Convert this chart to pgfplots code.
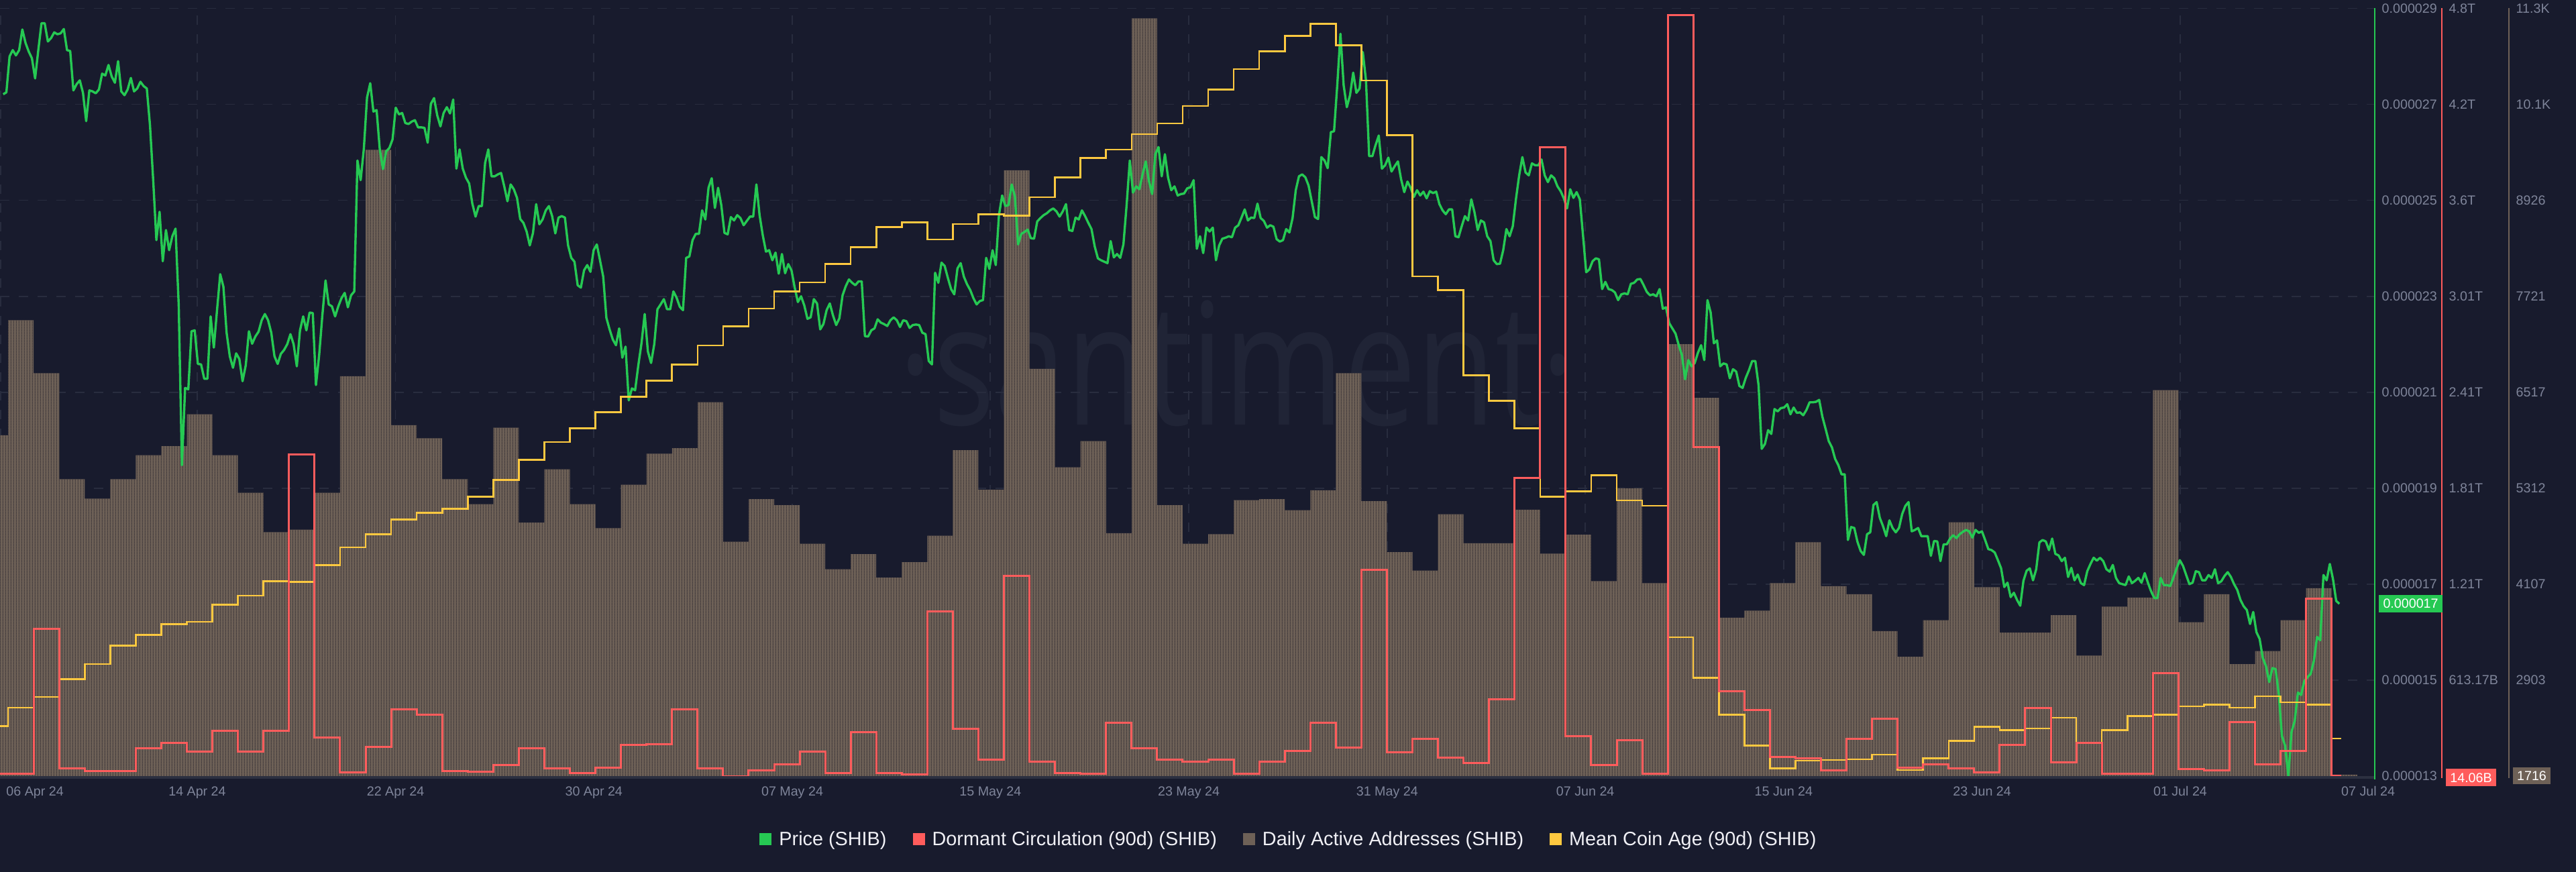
\documentclass[border=0pt]{standalone}
\usepackage{fontspec}
\setmainfont{Liberation Sans}
\newfontfamily\wmfont{Open Sans}
\usepackage{pgfplots}
\pgfplotsset{compat=1.18}
\usetikzlibrary{patterns.meta}

\definecolor{bgc}{RGB}{24,27,45}
\definecolor{gridc}{RGB}{40,44,62}
\definecolor{axisc}{RGB}{44,48,64}
\definecolor{tickc}{RGB}{126,132,153}
\definecolor{pricec}{RGB}{38,201,83}
\definecolor{dormc}{RGB}{255,92,92}
\definecolor{barc}{RGB}{110,97,87}
\definecolor{barline}{RGB}{52,47,52}
\definecolor{agec}{RGB}{255,201,64}
\definecolor{legc}{RGB}{240,240,245}
\definecolor{wmc}{RGB}{32,36,54}

\newcommand{\legsq}[1]{\textcolor{#1}{\rule[0.13mm]{1.8mm}{1.8mm}}}

\pgfplotsset{
  base/.style={
    scale only axis, width=354mm, height=114.45mm,
    at={(0mm,14.3mm)}, anchor=south west,
    xmin=-0.32, xmax=92.69,
    axis line style={draw=none},
    major tick length=0pt,
    tick style={draw=none},
    ticklabel style={font=\fontsize{5.6}{6.7}\selectfont, text=tickc, inner sep=0pt},
    yticklabel pos=right,
    yticklabel style={anchor=west},
  },
}

\begin{document}
\begin{tikzpicture}
\useasboundingbox (0,0) rectangle (384mm,130mm);
\fill[bgc] (0,0) rectangle (384mm,130mm);

% watermark
\node[text=wmc, font=\wmfont\fontsize{72}{72}\selectfont, anchor=base, xscale=0.76, inner sep=0pt] at (184.4mm,66.6mm) {·santiment·};

% daily active addresses (bars) + grid + x labels
\begin{axis}[base,
  ymin=1698.4, ymax=11335.2,
  ytick={2903,4107.6,5312.2,6516.8,7721.4,8926,10130.6,11335.2},
  yticklabels={2903,4107,5312,6517,7721,8926,10.1K,11.3K},
  yticklabel style={xshift=21mm},
  xtick={1.05,7.404,15.17,22.94,30.71,38.47,46.24,54.01,61.77,69.54,77.31,85.07,92.43},
  xticklabels={06 Apr 24,14 Apr 24,22 Apr 24,30 Apr 24,07 May 24,15 May 24,23 May 24,31 May 24,07 Jun 24,15 Jun 24,23 Jun 24,01 Jul 24,07 Jul 24},
  xticklabel style={anchor=north, yshift=-1.5mm},
  ymajorgrids=true,
  extra x ticks={-0.30,7.404,15.17,22.94,30.71,38.47,46.24,54.01,61.77,69.54,77.31,85.07},
  extra x tick labels={},
  extra x tick style={grid=major},
  grid style={gridc, line width=0.18mm, dash pattern=on 1.4mm off 1.4mm},
]
\addplot[ybar interval, draw=none, fill=barc,
  postaction={pattern={Lines[angle=90,distance=0.38mm,line width=0.09mm]}, pattern color=barline}]
coordinates {
(-1,5977)(0,7420)(1,6755)(2,5425)(3,5180)(4,5425)(5,5726)(6,5839)(7,6240)(8,5726)
(9,5255)(10,4760)(11,4791)(12,5255)(13,6717)(14,9559)(15,6102)(16,5939)(17,5425)(18,5111)
(19,6071)(20,4879)(21,5550)(22,5111)(23,4810)(24,5356)(25,5745)(26,5814)(27,6391)(28,4641)
(29,5174)(30,5099)(31,4615)(32,4295)(33,4484)(34,4189)(35,4383)(36,4716)(37,5789)(38,5293)
(39,9302)(40,6811)(41,5575)(42,5902)(43,4747)(44,11209)(45,5099)(46,4615)(47,4735)(48,5161)
(49,5174)(50,5036)(51,5287)(52,6755)(53,5149)(54,4509)(55,4277)(56,4986)(57,4622)(58,4622)
(59,5042)(60,4490)(61,4728)(62,4145)(63,5312)(64,4120)(65,7119)(66,6447)(67,3687)(68,3775)
(69,4120)(70,4634)(71,4082)(72,3982)(73,3517)(74,3197)(75,3655)(76,4885)(77,4070)(78,3499)
(79,3499)(80,3718)(81,3210)(82,3825)(83,3938)(84,6542)(85,3630)(86,3982)(87,3103)(88,3267)
(89,3655)(90,4057)(91,1716)(92,1716)
};
\end{axis}

% price
\begin{axis}[base,
  ymin=13, ymax=29,
  ytick={13,15,17,19,21,23,25,27,29},
  yticklabels={0.000013,0.000015,0.000017,0.000019,0.000021,0.000023,0.000025,0.000027,0.000029},
  yticklabel style={xshift=1mm},
  xtick=\empty,
]
\addplot[pricec, line width=0.34mm, line join=round] coordinates {
(-0.195,27.21)(-0.07,27.25)
(0.055,28.00)(0.18,28.13)(0.305,28.02)(0.43,28.13)(0.555,28.56)(0.68,28.28)(0.805,28.10)(0.93,27.96)
(1.055,27.54)(1.18,28.13)(1.305,28.69)(1.43,28.69)(1.555,28.31)(1.68,28.38)(1.805,28.50)(1.93,28.46)
(2.055,28.48)(2.18,28.57)(2.305,28.13)(2.43,28.11)(2.555,27.29)(2.68,27.42)(2.805,27.50)(2.93,27.24)
(3.055,26.65)(3.18,27.29)(3.305,27.27)(3.43,27.23)(3.555,27.31)(3.68,27.64)(3.805,27.60)(3.93,27.82)
(4.055,27.58)(4.18,27.45)(4.305,27.90)(4.43,27.27)(4.555,27.19)(4.68,27.31)(4.805,27.55)(4.93,27.27)
(5.055,27.33)(5.18,27.47)(5.305,27.38)(5.43,27.33)(5.555,26.56)(5.68,25.42)(5.805,24.17)(5.93,24.76)
(6.055,23.73)(6.18,24.38)(6.305,23.96)(6.43,24.25)(6.555,24.41)(6.68,22.81)(6.805,19.48)(6.93,21.09)
(7.055,21.06)(7.18,22.27)(7.305,22.29)(7.43,21.59)(7.555,21.58)(7.68,21.28)(7.805,21.28)(7.93,22.58)
(8.055,21.93)(8.18,22.71)(8.305,23.46)(8.43,23.20)(8.555,22.24)(8.68,21.75)(8.805,21.51)(8.93,21.81)
(9.055,21.69)(9.18,21.23)(9.305,21.56)(9.43,22.27)(9.555,22.01)(9.68,22.16)(9.805,22.26)(9.93,22.50)
(10.055,22.63)(10.18,22.50)(10.305,22.24)(10.43,21.75)(10.555,21.59)(10.68,21.80)(10.805,21.88)(10.93,22.00)
(11.055,22.21)(11.18,22.00)(11.305,21.54)(11.43,22.29)(11.555,22.58)(11.68,22.29)(11.805,22.66)(11.93,22.65)
(12.055,21.15)(12.18,21.77)(12.305,22.60)(12.43,23.33)(12.555,22.83)(12.68,22.79)(12.805,22.58)(12.93,22.79)
(13.055,22.96)(13.18,23.07)(13.305,22.77)(13.43,23.02)(13.555,23.10)(13.68,25.83)(13.805,25.42)(13.93,26.07)
(14.055,27.14)(14.18,27.44)(14.305,26.85)(14.43,26.88)(14.555,26.06)(14.68,25.65)(14.805,26.02)(14.93,26.09)
(15.055,26.27)(15.18,26.93)(15.305,26.79)(15.43,26.82)(15.555,26.61)(15.68,26.59)(15.805,26.64)(15.93,26.67)
(16.055,26.52)(16.18,26.52)(16.305,26.51)(16.43,26.20)(16.555,27.01)(16.68,27.13)(16.805,26.77)(16.93,26.54)
(17.055,26.82)(17.18,26.94)(17.305,26.81)(17.43,27.10)(17.555,25.66)(17.68,26.06)(17.805,25.66)(17.93,25.47)
(18.055,25.35)(18.18,24.93)(18.305,24.66)(18.43,24.88)(18.555,24.88)(18.68,25.78)(18.805,26.06)(18.93,25.50)
(19.055,25.50)(19.18,25.54)(19.305,25.57)(19.43,25.29)(19.555,24.98)(19.68,25.33)(19.805,25.23)(19.93,25.05)
(20.055,24.61)(20.18,24.53)(20.305,24.35)(20.43,24.06)(20.555,24.32)(20.68,24.92)(20.805,24.50)(20.93,24.60)
(21.055,24.79)(21.18,24.88)(21.305,24.67)(21.43,24.31)(21.555,24.64)(21.68,24.67)(21.805,24.64)(21.93,24.06)
(22.055,23.80)(22.18,23.72)(22.305,23.23)(22.43,23.18)(22.555,23.54)(22.68,23.65)(22.805,23.51)(22.93,23.96)
(23.055,24.08)(23.18,23.75)(23.305,23.41)(23.43,22.55)(23.555,22.31)(23.68,22.10)(23.805,21.98)(23.93,22.33)
(24.055,21.72)(24.18,21.95)(24.305,20.83)(24.43,21.08)(24.555,21.04)(24.68,21.56)(24.805,22.02)(24.93,22.63)
(25.055,21.85)(25.18,21.61)(25.305,22.00)(25.43,22.73)(25.555,22.83)(25.68,22.94)(25.805,22.73)(25.93,22.73)
(26.055,23.10)(26.18,22.97)(26.305,22.78)(26.43,22.71)(26.555,23.80)(26.68,23.83)(26.805,24.17)(26.93,24.30)
(27.055,24.30)(27.18,24.79)(27.305,24.60)(27.43,25.26)(27.555,25.46)(27.68,24.84)(27.805,25.26)(27.93,24.90)
(28.055,24.32)(28.18,24.29)(28.305,24.65)(28.43,24.58)(28.555,24.69)(28.68,24.63)(28.805,24.48)(28.93,24.57)
(29.055,24.66)(29.18,24.66)(29.305,25.33)(29.43,24.69)(29.555,24.27)(29.68,23.93)(29.805,23.96)(29.93,23.75)
(30.055,23.91)(30.18,23.47)(30.305,23.88)(30.43,23.48)(30.555,23.67)(30.68,23.54)(30.805,23.18)(30.93,22.88)
(31.055,23.00)(31.18,22.81)(31.305,22.53)(31.43,22.56)(31.555,22.94)(31.68,22.85)(31.805,22.31)(31.93,22.42)
(32.055,22.71)(32.18,22.85)(32.305,22.60)(32.43,22.40)(32.555,22.54)(32.68,23.02)(32.805,23.21)(32.93,23.35)
(33.055,23.28)(33.18,23.23)(33.305,23.31)(33.43,23.31)(33.555,22.17)(33.68,22.16)(33.805,22.29)(33.93,22.33)
(34.055,22.52)(34.18,22.45)(34.305,22.42)(34.43,22.38)(34.555,22.50)(34.68,22.56)(34.805,22.50)(34.93,22.36)
(35.055,22.50)(35.18,22.48)(35.305,22.34)(35.43,22.40)(35.555,22.41)(35.68,22.40)(35.805,22.24)(35.93,22.21)
(36.055,21.65)(36.18,21.58)(36.305,23.49)(36.43,23.28)(36.555,23.70)(36.68,23.63)(36.805,23.38)(36.93,23.15)
(37.055,23.04)(37.18,23.58)(37.305,23.69)(37.43,23.41)(37.555,23.25)(37.68,23.13)(37.805,22.96)(37.93,22.83)
(38.055,22.90)(38.18,22.92)(38.305,23.80)(38.43,23.57)(38.555,23.96)(38.68,23.65)(38.805,24.69)(38.93,25.10)
(39.055,24.88)(39.18,24.90)(39.305,25.33)(39.43,25.08)(39.555,24.08)(39.68,24.30)(39.805,24.34)(39.93,24.39)
(40.055,24.21)(40.18,24.20)(40.305,24.56)(40.43,24.63)(40.555,24.69)(40.68,24.73)(40.805,24.79)(40.93,24.83)
(41.055,24.77)(41.18,24.66)(41.305,24.77)(41.43,24.92)(41.555,24.38)(41.68,24.36)(41.805,24.64)(41.93,24.60)
(42.055,24.79)(42.18,24.67)(42.305,24.53)(42.43,24.40)(42.555,24.04)(42.68,23.79)(42.805,23.75)(42.93,23.72)
(43.055,23.69)(43.18,24.15)(43.305,23.81)(43.43,23.88)(43.555,23.80)(43.68,24.08)(43.805,24.90)(43.93,25.83)
(44.055,25.16)(44.18,25.29)(44.305,25.23)(44.43,25.54)(44.555,25.81)(44.68,25.40)(44.805,25.13)(44.93,25.96)
(45.055,26.11)(45.18,25.50)(45.305,25.96)(45.43,25.47)(45.555,25.21)(45.68,25.29)(45.805,25.10)(45.93,25.13)
(46.055,25.14)(46.18,25.25)(46.305,25.27)(46.43,25.42)(46.555,23.99)(46.68,24.25)(46.805,23.90)(46.93,24.43)
(47.055,24.35)(47.18,24.43)(47.305,23.75)(47.43,24.06)(47.555,24.20)(47.68,24.22)(47.805,24.25)(47.93,24.23)
(48.055,24.43)(48.18,24.48)(48.305,24.64)(48.43,24.81)(48.555,24.58)(48.68,24.64)(48.805,24.63)(48.93,24.93)
(49.055,24.63)(49.18,24.57)(49.305,24.43)(49.43,24.48)(49.555,24.45)(49.68,24.19)(49.805,24.14)(49.93,24.17)
(50.055,24.40)(50.18,24.33)(50.305,24.63)(50.43,25.21)(50.555,25.50)(50.68,25.54)(50.805,25.48)(50.93,25.31)
(51.055,24.98)(51.18,24.65)(51.305,24.61)(51.43,25.90)(51.555,25.83)(51.68,25.67)(51.805,26.42)(51.93,26.44)
(52.055,27.40)(52.18,28.47)(52.305,27.40)(52.43,26.94)(52.555,27.19)(52.68,27.66)(52.805,27.24)(52.93,27.33)
(53.055,28.09)(53.18,27.50)(53.305,25.92)(53.43,25.92)(53.555,26.15)(53.68,26.35)(53.805,25.66)(53.93,25.73)
(54.055,25.89)(54.18,25.60)(54.305,25.71)(54.43,25.81)(54.555,25.44)(54.68,25.17)(54.805,25.39)(54.93,25.26)
(55.055,25.07)(55.18,25.21)(55.305,25.10)(55.43,25.18)(55.555,25.04)(55.68,25.19)(55.805,25.15)(55.93,25.18)
(56.055,24.92)(56.18,24.79)(56.305,24.71)(56.43,24.81)(56.555,24.81)(56.68,24.25)(56.805,24.23)(56.93,24.46)
(57.055,24.67)(57.18,24.58)(57.305,25.02)(57.43,24.75)(57.555,24.38)(57.68,24.58)(57.805,24.54)(57.93,24.25)
(58.055,24.15)(58.18,23.75)(58.305,23.67)(58.43,23.68)(58.555,23.96)(58.68,24.40)(58.805,24.25)(58.93,24.46)
(59.055,25.03)(59.18,25.52)(59.305,25.90)(59.43,25.58)(59.555,25.52)(59.68,25.77)(59.805,25.73)(59.93,25.73)
(60.055,25.85)(60.18,25.52)(60.305,25.38)(60.43,25.52)(60.555,25.46)(60.68,25.29)(60.805,25.19)(60.93,25.04)
(61.055,24.83)(61.18,25.23)(61.305,25.05)(61.43,25.17)(61.555,25.02)(61.68,24.27)(61.805,23.50)(61.93,23.56)
(62.055,23.73)(62.18,23.79)(62.305,23.77)(62.43,23.15)(62.555,23.30)(62.68,23.15)(62.805,23.13)(62.93,23.08)
(63.055,22.92)(63.18,23.04)(63.305,23.06)(63.43,23.04)(63.555,23.26)(63.68,23.28)(63.805,23.35)(63.93,23.36)
(64.055,23.23)(64.18,23.09)(64.305,23.02)(64.43,23.04)(64.555,23.00)(64.68,23.15)(64.805,22.74)(64.93,22.77)
(65.055,22.44)(65.18,22.33)(65.305,22.22)(65.43,21.98)(65.555,21.77)(65.68,21.27)(65.805,21.67)(65.93,21.54)
(66.055,21.61)(66.18,21.82)(66.305,21.98)(66.43,21.67)(66.555,22.92)(66.68,22.66)(66.805,22.02)(66.93,22.08)
(67.055,21.54)(67.18,21.60)(67.305,21.58)(67.43,21.29)(67.555,21.48)(67.68,21.43)(67.805,21.13)(67.93,21.09)
(68.055,21.30)(68.18,21.46)(68.305,21.65)(68.43,21.65)(68.555,21.15)(68.68,19.82)(68.805,19.92)(68.93,20.21)
(69.055,20.13)(69.18,20.65)(69.305,20.60)(69.43,20.67)(69.555,20.68)(69.68,20.75)(69.805,20.54)(69.93,20.68)
(70.055,20.57)(70.18,20.58)(70.305,20.52)(70.43,20.63)(70.555,20.79)(70.68,20.79)(70.805,20.80)(70.93,20.84)
(71.055,20.49)(71.18,20.24)(71.305,19.98)(71.43,19.85)(71.555,19.61)(71.68,19.48)(71.805,19.29)(71.93,19.29)
(72.055,17.92)(72.18,18.19)(72.305,18.17)(72.43,17.88)(72.555,17.69)(72.68,17.61)(72.805,18.04)(72.93,18.08)
(73.055,18.65)(73.18,18.71)(73.305,18.38)(73.43,18.21)(73.555,18.00)(73.68,18.33)(73.805,18.17)(73.93,18.08)
(74.055,18.17)(74.18,18.46)(74.305,18.63)(74.43,18.71)(74.555,18.10)(74.68,18.13)(74.805,18.17)(74.93,18.00)
(75.055,18.00)(75.18,18.00)(75.305,17.59)(75.43,17.90)(75.555,17.89)(75.68,17.48)(75.805,17.83)(75.93,17.83)
(76.055,17.95)(76.18,18.02)(76.305,17.96)(76.43,18.04)(76.555,18.09)(76.68,18.13)(76.805,18.10)(76.93,17.97)
(77.055,18.13)(77.18,18.07)(77.305,18.10)(77.43,17.92)(77.555,17.73)(77.68,17.71)(77.805,17.66)(77.93,17.50)
(78.055,17.33)(78.18,16.94)(78.305,17.03)(78.43,16.73)(78.555,16.82)(78.68,16.67)(78.805,16.55)(78.93,17.07)
(79.055,17.28)(79.18,17.33)(79.305,17.08)(79.43,17.31)(79.555,17.87)(79.68,17.92)(79.805,17.89)(79.93,17.71)
(80.055,17.95)(80.18,17.63)(80.305,17.60)(80.43,17.48)(80.555,17.55)(80.68,17.15)(80.805,17.34)(80.93,17.08)
(81.055,17.20)(81.18,17.02)(81.305,16.98)(81.43,17.27)(81.555,17.42)(81.68,17.55)(81.805,17.49)(81.93,17.55)
(82.055,17.48)(82.18,17.31)(82.305,17.26)(82.43,17.40)(82.555,17.13)(82.68,17.02)(82.805,17.00)(82.93,16.98)
(83.055,17.16)(83.18,17.02)(83.305,17.07)(83.43,17.13)(83.555,17.03)(83.68,17.23)(83.805,17.03)(83.93,16.85)
(84.055,16.71)(84.18,16.71)(84.305,17.13)(84.43,16.98)(84.555,16.98)(84.68,16.96)(84.805,17.14)(84.93,17.33)
(85.055,17.50)(85.18,17.38)(85.305,17.19)(85.43,17.00)(85.555,17.03)(85.68,17.27)(85.805,17.25)(85.93,17.08)
(86.055,17.08)(86.18,17.19)(86.305,17.13)(86.43,17.31)(86.555,17.02)(86.68,17.06)(86.805,17.17)(86.93,17.25)
(87.055,17.15)(87.18,17.00)(87.305,16.88)(87.43,16.67)(87.555,16.54)(87.68,16.46)(87.805,16.17)(87.93,16.42)
(88.055,16.00)(88.18,15.86)(88.305,15.46)(88.43,15.29)(88.555,14.96)(88.68,15.25)(88.805,15.23)(88.93,14.71)
(89.055,13.83)(89.18,13.63)(89.305,13.00)(89.43,13.92)(89.555,14.15)(89.68,14.74)(89.805,14.69)(89.93,14.98)
(90.055,15.06)(90.18,15.13)(90.305,15.40)(90.43,15.90)(90.555,15.83)(90.68,17.19)(90.805,17.08)(90.93,17.42)
(91.055,17.10)(91.18,16.65)(91.305,16.59)
};
\end{axis}

% mean coin age (no scale shown)
\begin{axis}[base, ymin=0, ymax=100, ytick=\empty, xtick=\empty]
\addplot[agec, line width=0.26mm, const plot] coordinates {
(-1,6.5)(0,8.9)(1,10.3)(2,12.6)(3,14.6)(4,17.0)(5,18.4)(6,19.8)(7,20.1)(8,22.3)
(9,23.5)(10,25.4)(11,25.3)(12,27.5)(13,29.8)(14,31.5)(15,33.4)(16,34.3)(17,34.8)(18,36.4)
(19,38.6)(20,41.2)(21,43.5)(22,45.3)(23,47.4)(24,49.4)(25,51.5)(26,53.6)(27,56.1)(28,58.6)
(29,60.9)(30,63.1)(31,64.3)(32,66.7)(33,68.9)(34,71.5)(35,72.1)(36,69.9)(37,71.9)(38,73.2)
(39,73.0)(40,75.4)(41,78.0)(42,80.5)(43,81.6)(44,83.6)(45,85.0)(46,87.3)(47,89.4)(48,92.1)
(49,94.4)(50,96.4)(51,98.0)(52,95.2)(53,90.6)(54,83.5)(55,65.1)(56,63.3)(57,52.2)(58,48.9)
(59,45.3)(60,36.4)(61,37.1)(62,39.2)(63,35.9)(64,35.2)(65,18.1)(66,12.8)(67,8.0)(68,4.0)
(69,1.0)(70,2.0)(71,2.1)(72,2.2)(73,2.8)(74,0.8)(75,2.3)(76,4.6)(77,6.4)(78,6.0)
(79,6.2)(80,7.6)(81,4.3)(82,6.0)(83,7.8)(84,8.0)(85,9.1)(86,9.3)(87,8.9)(88,10.4)
(89,9.6)(90,9.3)(91,4.9)(91.37,4.9)
};
\end{axis}

% dormant circulation
\begin{axis}[base,
  ymin=0.01317, ymax=4.8,
  ytick={0.61152,1.20987,1.80823,2.40658,3.00494,3.60329,4.20165,4.8},
  yticklabels={613.17B,1.21T,1.81T,2.41T,3.01T,3.6T,4.2T,4.8T},
  yticklabel style={xshift=11mm},
  xtick=\empty,
]
\addplot[dormc, line width=0.3mm, const plot] coordinates {
(-1,0.026)(0,0.026)(1,0.932)(2,0.063)(3,0.044)(4,0.044)(5,0.188)(6,0.219)(7,0.166)(8,0.297)
(9,0.166)(10,0.297)(11,2.02)(12,0.254)(13,0.035)(14,0.194)(15,0.429)(16,0.394)(17,0.044)(18,0.041)
(19,0.082)(20,0.188)(21,0.060)(22,0.032)(23,0.066)(24,0.207)(25,0.210)(26,0.429)(27,0.063)(28,0.013)
(29,0.047)(30,0.085)(31,0.166)(32,0.032)(33,0.288)(34,0.032)(35,0.022)(36,1.041)(37,0.310)(38,0.116)
(39,1.263)(40,0.101)(41,0.032)(42,0.029)(43,0.347)(44,0.188)(45,0.116)(46,0.104)(47,0.116)(48,0.026)
(49,0.104)(50,0.169)(51,0.347)(52,0.191)(53,1.298)(54,0.160)(55,0.244)(56,0.129)(57,0.094)(58,0.491)
(59,1.872)(60,3.935)(61,0.260)(62,0.082)(63,0.238)(64,0.026)(65,4.757)(66,2.063)(67,0.544)(68,0.426)
(69,0.132)(70,0.126)(71,0.047)(72,0.247)(73,0.372)(74,0.066)(75,0.088)(76,0.063)(77,0.035)(78,0.207)
(79,0.438)(80,0.097)(81,0.219)(82,0.029)(83,0.026)(84,0.657)(85,0.057)(86,0.047)(87,0.350)(88,0.088)
(89,0.172)(90,1.119)(91,0.014)(91.37,0.014)
};
\end{axis}

% axis base line and coloured scale lines
\draw[axisc, line width=0.4mm] (0,14.1mm) -- (354mm,14.1mm);
\draw[pricec, line width=0.2mm] (354mm,13.8mm) -- (354mm,128.75mm);
\draw[dormc, line width=0.2mm] (364mm,14.0mm) -- (364mm,128.75mm);
\draw[barc, line width=0.2mm] (374mm,14.0mm) -- (374mm,128.75mm);

% last value badges
\fill[pricec] (354.6mm,38.7mm) rectangle (364.1mm,41.3mm);
\node[text=white, font=\fontsize{5.6}{6.7}\selectfont, inner sep=0pt] at (359.35mm,40mm) {0.000017};
\fill[dormc] (364.6mm,12.8mm) rectangle (372.1mm,15.35mm);
\node[text=white, font=\fontsize{5.6}{6.7}\selectfont, inner sep=0pt] at (368.35mm,14.07mm) {14.06B};
\fill[barc] (374.6mm,13.1mm) rectangle (380.2mm,15.6mm);
\node[text=white, font=\fontsize{5.6}{6.7}\selectfont, inner sep=0pt] at (377.4mm,14.35mm) {1716};

% legend
\node[anchor=base, text=legc, font=\fontsize{8.2}{9.8}\selectfont, inner sep=0pt] at (192mm,3.9mm)
 {\legsq{pricec}\hspace{1.1mm}Price (SHIB)\hspace{3.9mm}\legsq{dormc}\hspace{1.1mm}Dormant Circulation (90d) (SHIB)\hspace{3.9mm}\legsq{barc}\hspace{1.1mm}Daily Active Addresses (SHIB)\hspace{3.9mm}\legsq{agec}\hspace{1.1mm}Mean Coin Age (90d) (SHIB)};
\end{tikzpicture}
\end{document}
